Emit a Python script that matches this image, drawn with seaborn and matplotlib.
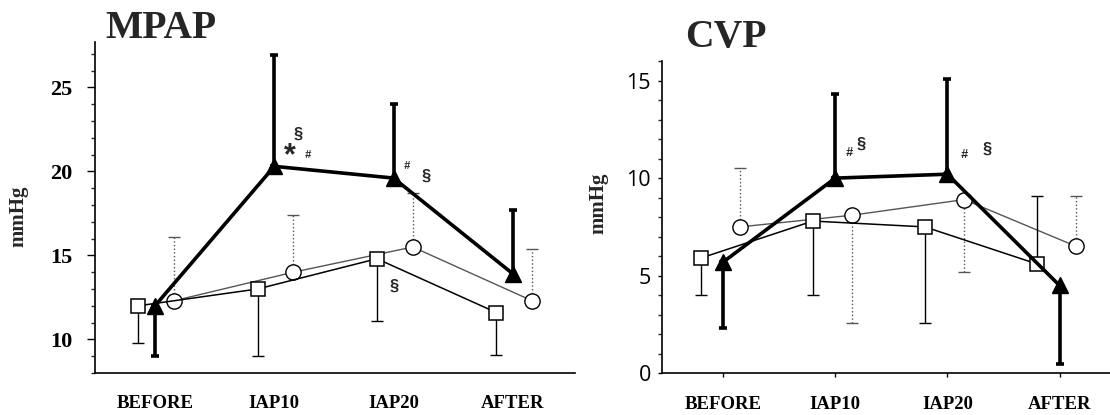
import numpy as np
import matplotlib
matplotlib.use("Agg")
import matplotlib.pyplot as plt
import seaborn as sns

# data
categories = ["BEFORE", "IAP10", "IAP20", "AFTER"]

mpap_tri = [12.0, 20.3, 19.6, 13.9]
mpap_tri_tip = [9.0, 26.9, 24.0, 17.7]
mpap_sq = [12.0, 13.0, 14.8, 11.6]
mpap_sq_tip = [9.8, 9.0, 11.1, 9.1]
mpap_ci = [12.3, 14.0, 15.5, 12.3]
mpap_ci_tip = [16.1, 17.4, 18.7, 15.4]

cvp_tri = [5.7, 10.0, 10.2, 4.5]
cvp_tri_tip = [2.3, 14.3, 15.1, 0.5]
cvp_sq = [5.9, 7.8, 7.5, 5.6]
cvp_sq_tip = [4.0, 4.0, 2.6, 9.1]
cvp_ci = [7.5, 8.1, 8.9, 6.5]
cvp_ci_tip = [10.5, 2.6, 5.2, 9.1]

sns.set_style("ticks")
plt.rcParams['font.family'] = ['Liberation Serif', 'DejaVu Serif']

fig = plt.figure(figsize=(11.1, 4.15), dpi=100)
W, H = 1110, 415


def add_axes(x0, x1, ytop, ybot):
    return fig.add_axes([x0 / W, 1 - ybot / H, (x1 - x0) / W, (ybot - ytop) / H])


def one_sided(mean, tip):
    mean = np.asarray(mean)
    d = np.asarray(tip) - mean
    return np.vstack([np.clip(-d, 0, None), np.clip(d, 0, None)])


def draw_series(ax, x, mean, tip, kind):
    if kind == "tri":
        ax.errorbar(x, mean, yerr=one_sided(mean, tip), fmt='none', ecolor='black',
                    elinewidth=2.6, capsize=3, capthick=2.6, zorder=5)
        sns.lineplot(x=x, y=mean, ax=ax, color='black', lw=2.6, marker='^',
                     markersize=12, markerfacecolor='black', markeredgecolor='black',
                     mew=1, zorder=6)
    elif kind == "sq":
        ax.errorbar(x, mean, yerr=one_sided(mean, tip), fmt='none', ecolor='black',
                    elinewidth=1.0, capsize=4, capthick=1.0, zorder=3)
        sns.lineplot(x=x, y=mean, ax=ax, color='black', lw=1.1, marker='s',
                     markersize=10, markerfacecolor='white', markeredgecolor='black',
                     mew=1.1, zorder=4)
    else:
        eb = ax.errorbar(x, mean, yerr=one_sided(mean, tip), fmt='none', ecolor='#555555',
                         elinewidth=1.0, capsize=4, capthick=1.0, zorder=1)
        eb[2][0].set_linestyle(':')
        sns.lineplot(x=x, y=mean, ax=ax, color='#555555', lw=1.0, marker='o',
                     markersize=11, markerfacecolor='white', markeredgecolor='black',
                     mew=1.0, zorder=2)


pos = np.arange(len(categories))

# left panel - MPAP
ax1 = add_axes(94.6, 575, 42, 373)
draw_series(ax1, pos + 0.16, mpap_ci, mpap_ci_tip, "ci")
draw_series(ax1, pos - 0.14, mpap_sq, mpap_sq_tip, "sq")
draw_series(ax1, pos, mpap_tri, mpap_tri_tip, "tri")
ax1.set_xlim(-0.506, 3.52)
ax1.set_ylim(8, 27.7)
ax1.set_yticks([10, 15, 20, 25])
ax1.set_yticks(np.arange(8, 28, 1), minor=True)
ax1.set_yticklabels(["10", "15", "20", "25"], fontsize=16, fontweight='bold')
ax1.tick_params(axis='y', which='major', length=6, width=1, pad=10)
ax1.tick_params(axis='y', which='minor', length=3, width=1)
ax1.set_xticks(pos)
ax1.set_xticklabels(categories, fontsize=13.5, fontweight='bold')
ax1.tick_params(axis='x', length=0, pad=16)
ax1.set_ylabel("mmHg", fontsize=15, fontweight='bold')
ax1.yaxis.set_label_coords(-0.137, 0.474)
ax1.set_xlabel("")

# significance marks
sym = dict(family=['Liberation Sans', 'DejaVu Sans'], fontweight='bold', ha='center', va='center')
ax1.text(1.20, 22.2, "§", fontsize=12, **sym)
ax1.text(1.13, 20.9, "*", fontsize=22, **sym)
ax1.text(1.28, 21.0, "#", fontsize=8, style='italic', **sym)
ax1.text(2.11, 20.3, "#", fontsize=8, style='italic', **sym)
ax1.text(2.27, 19.7, "§", fontsize=12, **sym)
ax1.text(2.00, 13.15, "§", fontsize=12, **sym)

# right panel - CVP
ax2 = add_axes(662, 1110, 61, 373.3)
draw_series(ax2, pos + 0.15, cvp_ci, cvp_ci_tip, "ci")
draw_series(ax2, pos - 0.20, cvp_sq, cvp_sq_tip, "sq")
draw_series(ax2, pos, cvp_tri, cvp_tri_tip, "tri")
ax2.set_xlim(-0.545, 3.45)
ax2.set_ylim(0, 16.0)
ax2.set_yticks([0, 5, 10, 15])
ax2.set_yticks(np.arange(0, 17, 1), minor=True)
ax2.set_yticklabels(["0", "5", "10", "15"], fontsize=15.5,
                    family=['Open Sans', 'DejaVu Sans'], color='#222222')
ax2.tick_params(axis='y', which='major', length=3, width=1, pad=5)
ax2.tick_params(axis='y', which='minor', length=3, width=1)
ax2.set_xticks(pos)
ax2.set_xticklabels(categories, fontsize=13.5, fontweight='bold')
ax2.tick_params(axis='x', length=3, width=1, pad=13)
ax2.set_ylabel("mmHg", fontsize=15, fontweight='bold')
ax2.yaxis.set_label_coords(-0.12, 0.545)
ax2.set_xlabel("")

ax2.text(1.12, 11.3, "#", fontsize=9, style='italic', **sym)
ax2.text(1.23, 11.75, "§", fontsize=12, **sym)
ax2.text(2.15, 11.2, "#", fontsize=9, style='italic', **sym)
ax2.text(2.35, 11.5, "§", fontsize=12, **sym)

for ax in (ax1, ax2):
    sns.despine(ax=ax)
    for s in ("left", "bottom"):
        ax.spines[s].set_linewidth(1.2)
        ax.spines[s].set_color('black')
    ax.tick_params(colors='black')

fig.text(105 / W, 1 - 28 / H, "MPAP", fontsize=28.5, fontweight='bold', ha='left', va='center')
fig.text(685 / W, 1 - 37 / H, "CVP", fontsize=28.5, fontweight='bold', ha='left', va='center')

fig.savefig("out.png", dpi=100)
